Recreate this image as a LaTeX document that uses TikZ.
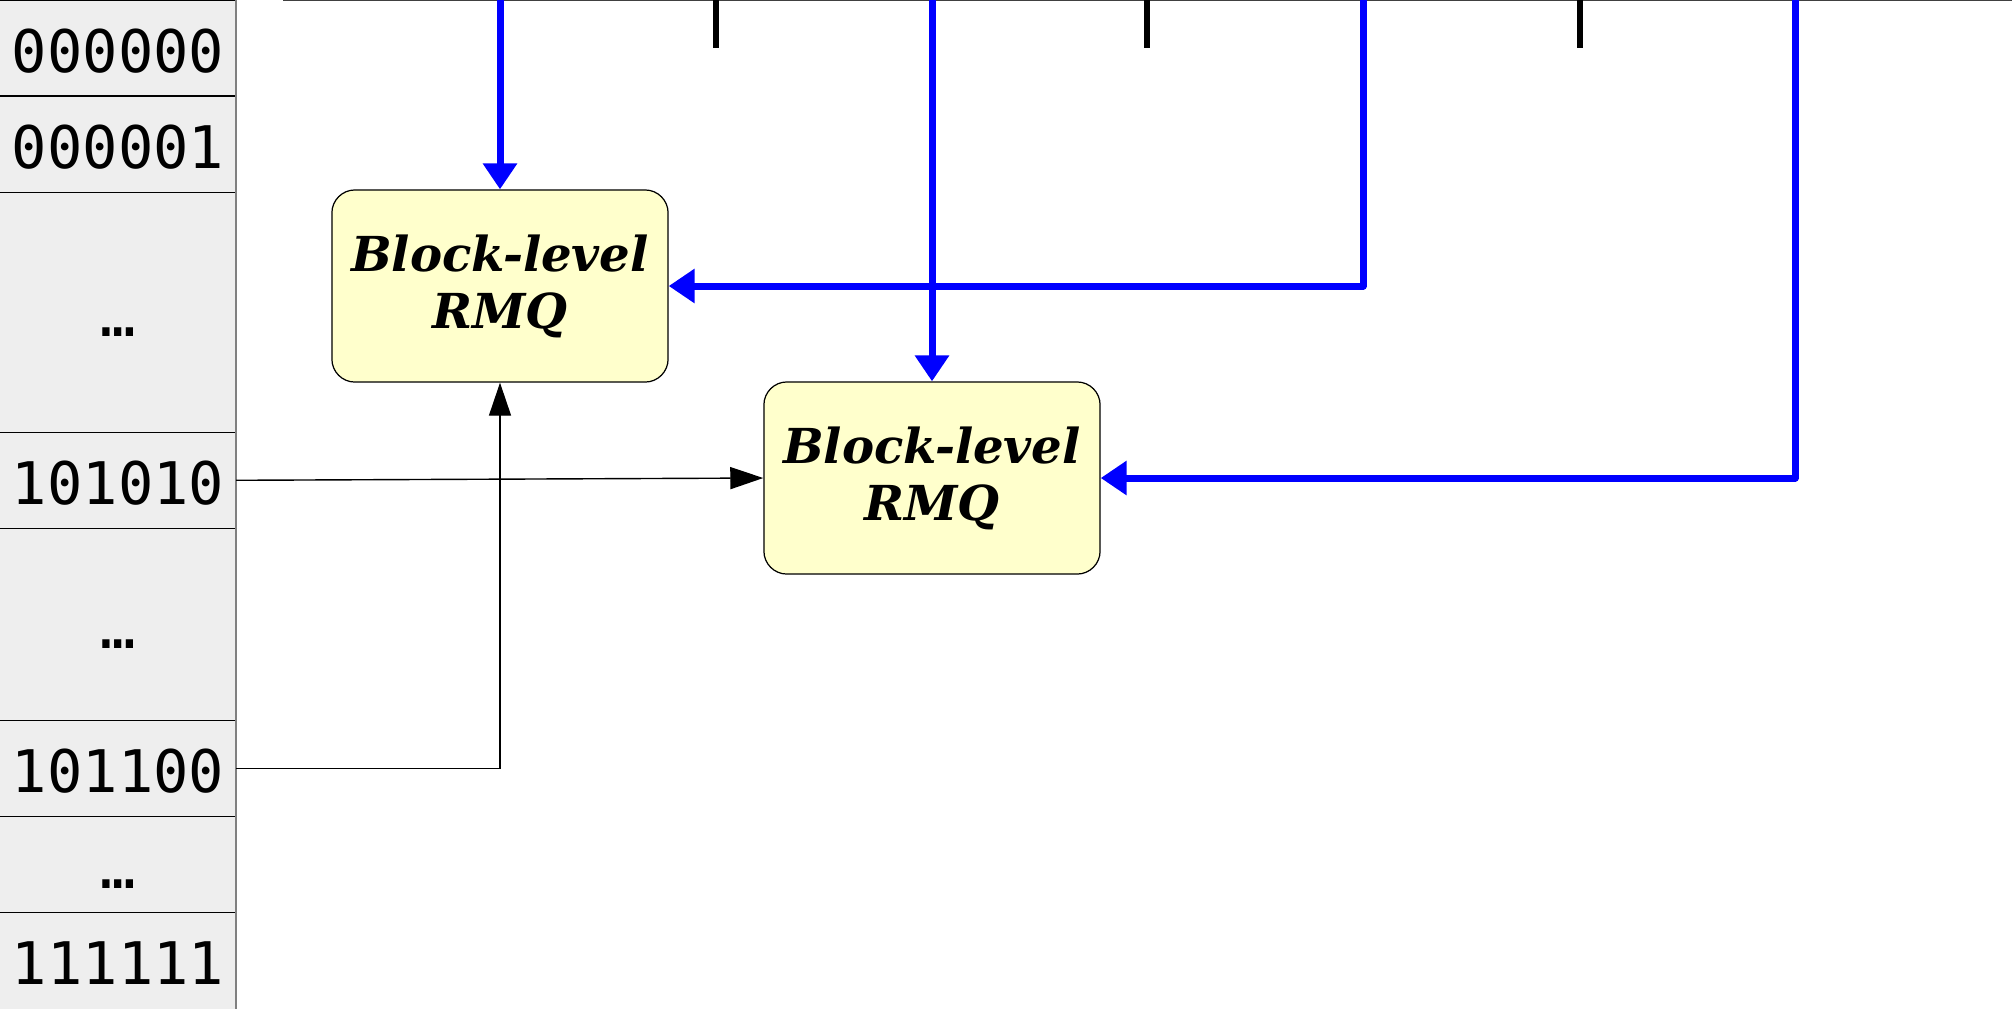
\documentclass[tikz,border=0pt]{standalone}
\usepackage{fontspec}
\newfontfamily\cellfont{DejaVu Sans Mono}
\newfontfamily\rmqfont{DejaVu Serif}
\usetikzlibrary{arrows.meta,positioning}
\definecolor{cellgray}{HTML}{EEEEEE}
\definecolor{rmqyellow}{HTML}{FFFFCC}
\definecolor{wireblue}{HTML}{0000FF}
\definecolor{railgray}{HTML}{404040}

\begin{document}
\begin{tikzpicture}[x=0.01cm,y=-0.01cm,
	cell/.style={fill=cellgray, minimum width=2.36cm, text height=0.48cm, text depth=0cm, inner sep=0pt, outer sep=0pt, font=\cellfont\fontsize{16.7}{20}\selectfont},
	rmq/.style={draw=black, line width=0.35pt, fill=rmqyellow, rounded corners=0.23cm, minimum width=3.36cm, minimum height=1.92cm, align=center, font=\rmqfont\bfseries\itshape\fontsize{13.7}{16.2}\selectfont},
	bus/.style={wireblue, line width=0.07cm, line join=round, -{Triangle[width=0.33cm,length=0.26cm]}},
	idx/.style={black, line width=0.4pt, -{Triangle[width=0.22cm,length=0.33cm]}},
	tickmark/.style={black, line width=0.055cm}]
\useasboundingbox (0,0) rectangle (2012,1008);

% index column
\node[cell, minimum height=0.96cm, anchor=north west](c0) at (0,0){000000};
\node[cell, minimum height=0.96cm, below=0pt of c0](c1){000001};
\node[cell, minimum height=2.40cm, below=0pt of c1](c2){\char"2026};
\node[cell, minimum height=0.96cm, below=0pt of c2](c3){101010};
\node[cell, minimum height=1.92cm, below=0pt of c3](c4){\char"2026};
\node[cell, minimum height=0.96cm, below=0pt of c4](c5){101100};
\node[cell, minimum height=0.96cm, below=0pt of c5](c6){\char"2026};
\node[cell, minimum height=0.96cm, below=0pt of c6](c7){111111};
\draw[line width=0.35pt](c0.north west)to(c0.north east);
\foreach \c in {c0,c1,c2,c3,c4,c5,c6}
	\draw[line width=0.35pt](\c.south west)to(\c.south east);
\draw[gray, line width=0.02cm](c0.north east)to(c7.south east);

% top rail
\coordinate(rail) at (283,0.5);
\draw[railgray, line width=0.015cm](rail)to(2012,0.5);
\foreach \x in {716,1147,1580}
	\draw[tickmark](\x,0)to(\x,48);

% RMQ blocks
\node[rmq](b1) at (500,286){Block-level\\RMQ};
\node[rmq](b2) at (932,478){Block-level\\RMQ};

\coordinate(t1) at (500,0);
\coordinate(t2) at (932,0);
\coordinate(t3) at (1363,0);
\coordinate(t4) at (1795,0);
\draw[bus](t1)to(b1.north);
\draw[bus](t2)to(b2.north);
\draw[bus](t3)|-(b1.east);
\draw[bus](t4)|-(b2.east);

\draw[idx](c3.east)to(b2.west);
\draw[idx](c5.east)-|(b1.south);
\end{tikzpicture}
\end{document}
